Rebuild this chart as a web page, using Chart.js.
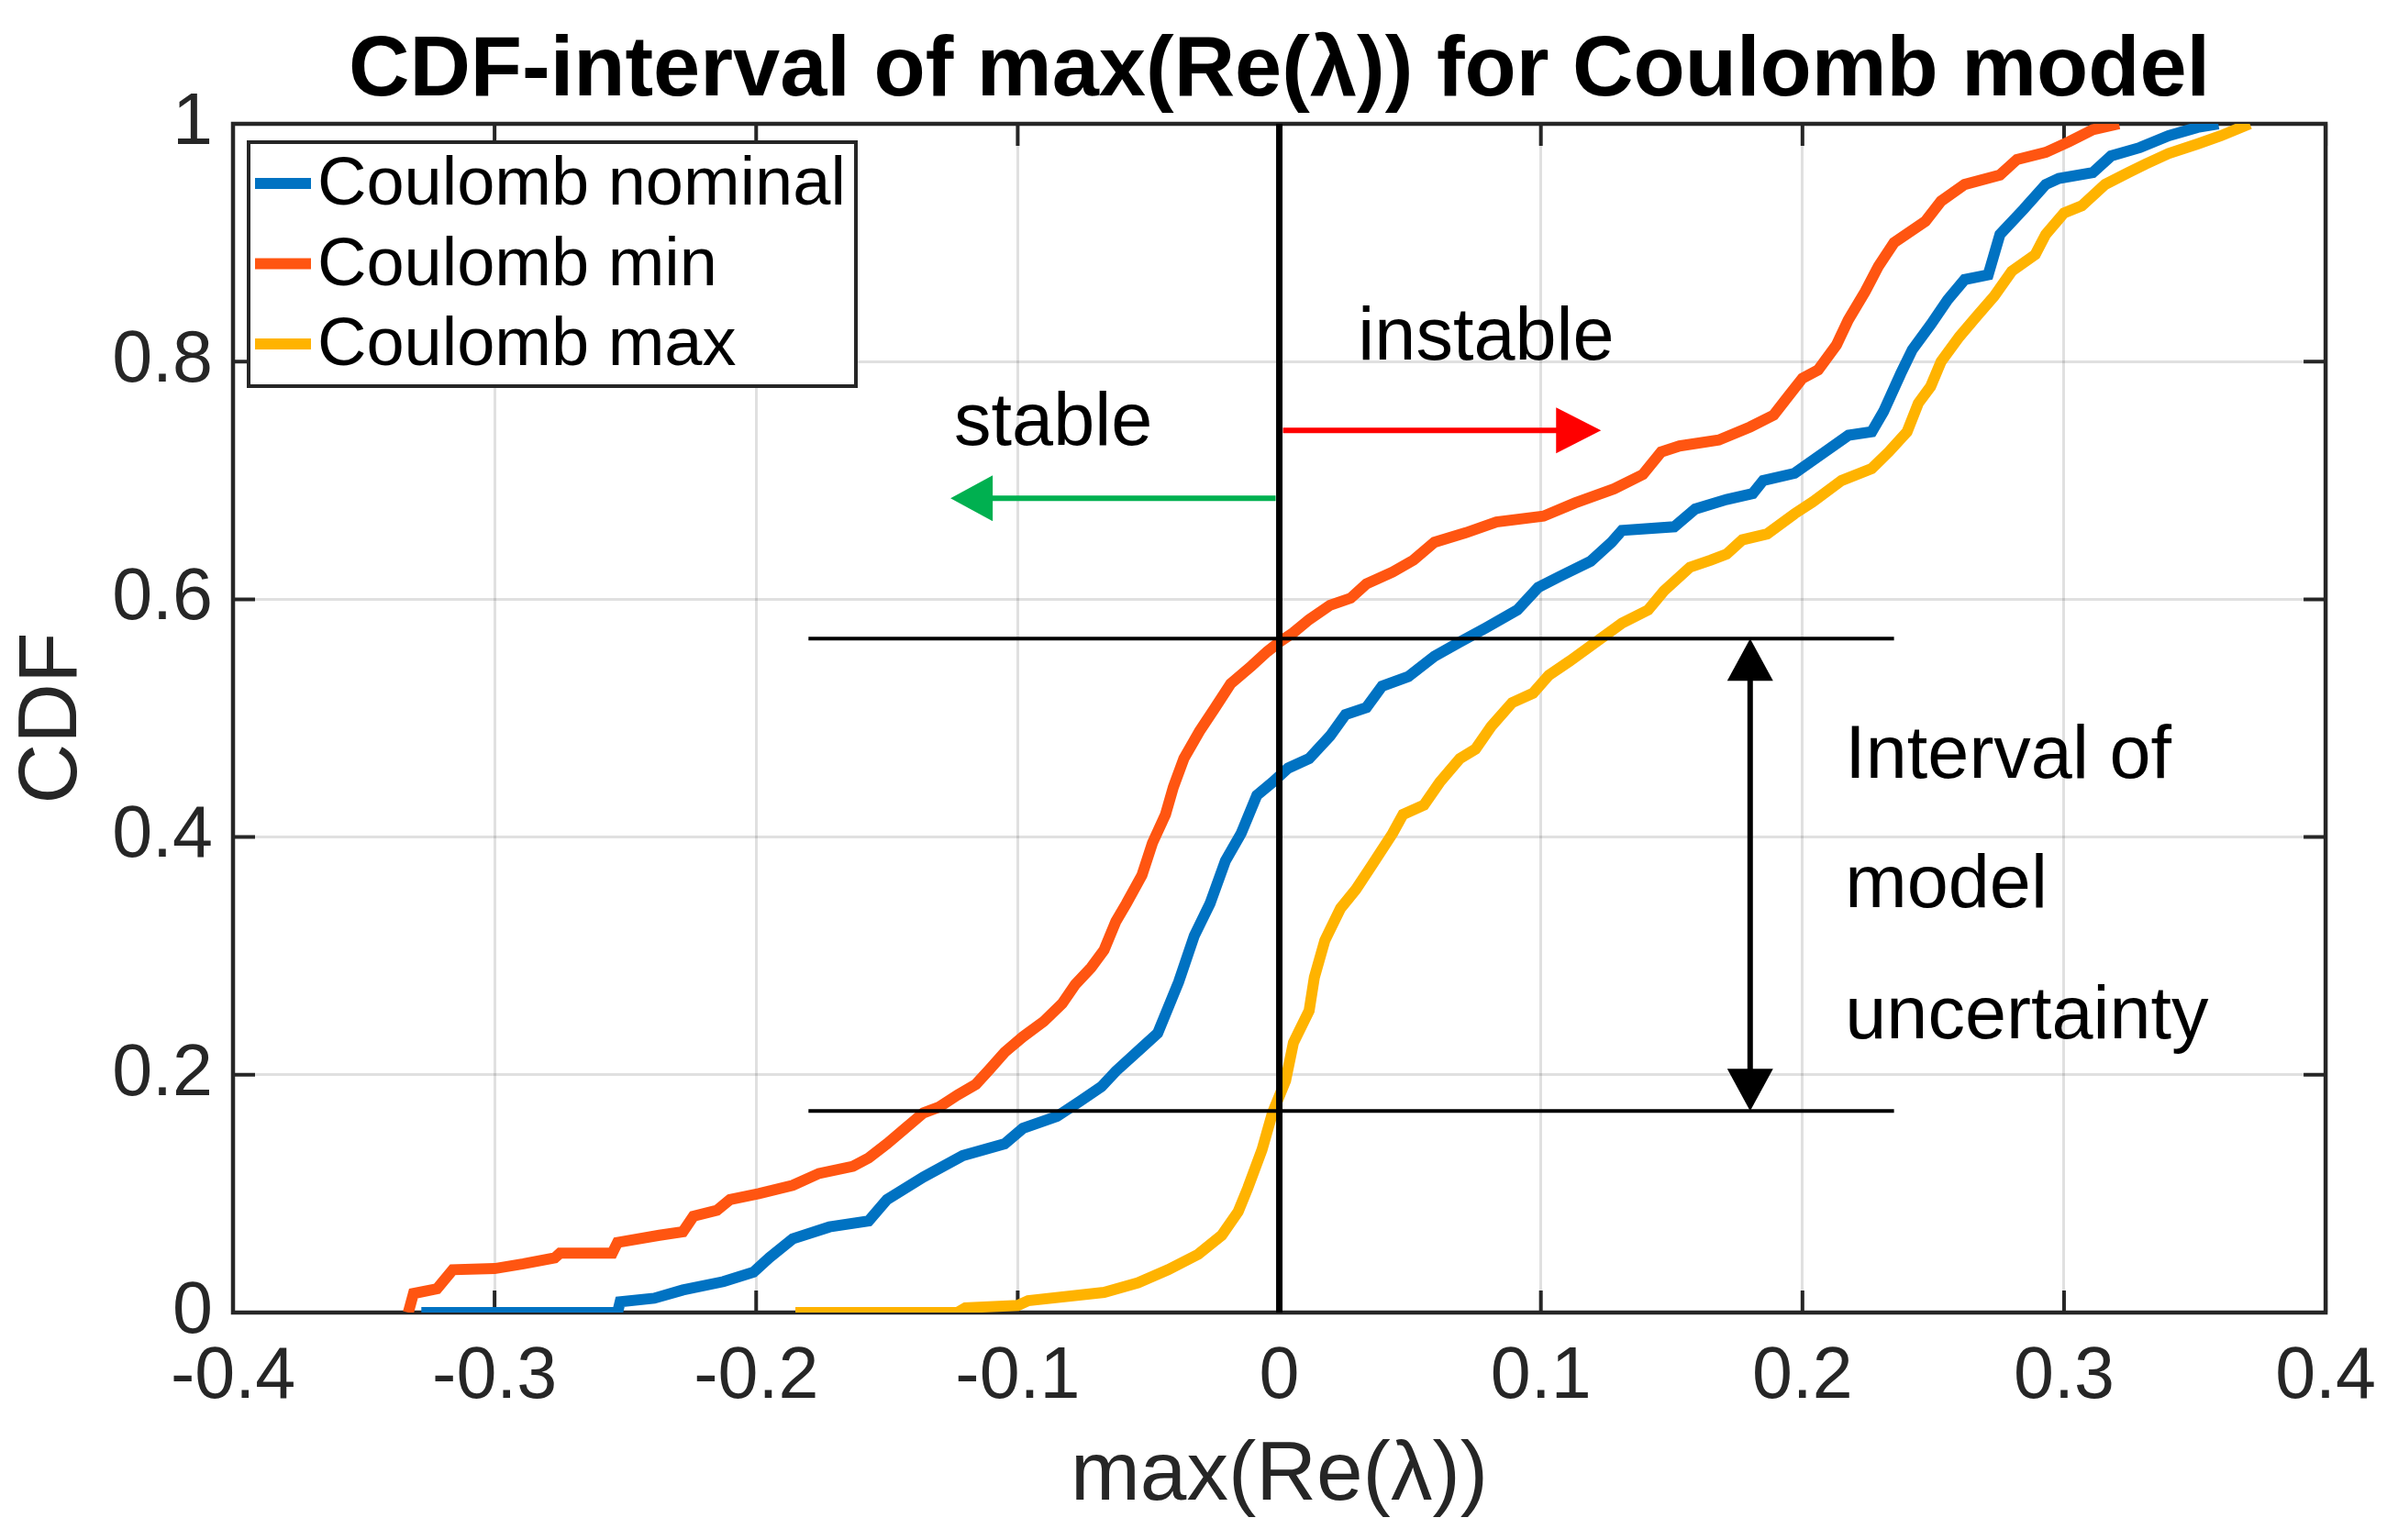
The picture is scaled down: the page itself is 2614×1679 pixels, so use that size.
<!DOCTYPE html>
<html>
<head>
<meta charset="utf-8">
<script src="https://cdn.jsdelivr.net/npm/chart.js@4.4.1/dist/chart.umd.min.js"></script>
<style>
  html,body{margin:0;padding:0;background:#fff;}
  #wrap{width:2614px;height:1679px;}
</style>
</head>
<body>
<div id="wrap"><canvas id="cdf"></canvas></div>
<script>
/* CDF interval of max(Re(lambda)) - Coulomb model */
const C_NOM = '#0072C2';
const C_MIN = '#FF5511';
const C_MAX = '#FFB300';
const AXIS  = '#262626';
const FONT  = '"Liberation Sans", Arial, Helvetica, sans-serif';

const nomX = [-0.328,-0.253,-0.252,-0.239,-0.228,-0.2125,-0.201,-0.195,-0.186,-0.172,-0.157,-0.150,-0.136,-0.121,-0.105,-0.098,-0.085,-0.076,-0.068,-0.0625,-0.0525,-0.0465,-0.0385,-0.0325,-0.0265,-0.0206,-0.0146,-0.0086,-0.0026,0.0034,0.0114,0.0194,0.0253,0.0333,0.0393,0.0493,0.0593,0.069,0.079,0.091,0.099,0.107,0.119,0.127,0.131,0.151,0.159,0.171,0.181,0.185,0.197,0.2086,0.2176,0.2265,0.231,0.2376,0.242,0.249,0.2555,0.262,0.271,0.2755,0.2845,0.293,0.298,0.311,0.318,0.329,0.340,0.351,0.359];
const nomY = [0,0,0.009,0.012,0.019,0.026,0.034,0.046,0.062,0.072,0.077,0.095,0.114,0.132,0.142,0.155,0.165,0.178,0.190,0.203,0.223,0.235,0.278,0.317,0.344,0.380,0.403,0.435,0.446,0.458,0.466,0.485,0.503,0.509,0.527,0.535,0.552,0.564,0.576,0.591,0.610,0.619,0.632,0.648,0.658,0.661,0.676,0.684,0.689,0.700,0.706,0.724,0.738,0.741,0.758,0.790,0.810,0.831,0.852,0.869,0.873,0.907,0.928,0.949,0.954,0.959,0.973,0.980,0.990,0.997,1.0];

const minX = [-0.333,-0.331,-0.322,-0.316,-0.300,-0.289,-0.277,-0.275,-0.255,-0.253,-0.237,-0.228,-0.224,-0.215,-0.210,-0.199,-0.186,-0.176,-0.163,-0.157,-0.150,-0.143,-0.136,-0.130,-0.123,-0.116,-0.111,-0.105,-0.098,-0.090,-0.083,-0.078,-0.072,-0.067,-0.0625,-0.0585,-0.0525,-0.0485,-0.0435,-0.0405,-0.0365,-0.0305,-0.0245,-0.0186,-0.0106,-0.0046,0,0.0054,0.0114,0.0194,0.0273,0.0333,0.0433,0.0513,0.0593,0.0713,0.083,0.101,0.113,0.128,0.139,0.146,0.153,0.168,0.180,0.189,0.195,0.200,0.206,0.213,0.2175,0.224,0.229,0.235,0.247,0.253,0.262,0.2755,0.282,0.293,0.302,0.311,0.321];
const minY = [0,0.016,0.020,0.036,0.037,0.041,0.046,0.050,0.050,0.059,0.065,0.068,0.081,0.086,0.095,0.100,0.107,0.117,0.123,0.130,0.142,0.155,0.168,0.173,0.183,0.192,0.204,0.219,0.232,0.245,0.260,0.276,0.290,0.305,0.329,0.344,0.368,0.395,0.419,0.442,0.466,0.489,0.509,0.529,0.544,0.556,0.564,0.572,0.583,0.595,0.601,0.613,0.623,0.633,0.648,0.656,0.665,0.670,0.681,0.693,0.705,0.724,0.729,0.734,0.745,0.755,0.772,0.786,0.793,0.814,0.835,0.859,0.880,0.900,0.918,0.935,0.949,0.957,0.970,0.976,0.985,0.995,1.0];

const maxX = [-0.185,-0.123,-0.120,-0.100,-0.096,-0.067,-0.054,-0.0425,-0.031,-0.022,-0.0157,-0.012,-0.0066,-0.0026,0.0024,0.0054,0.0114,0.0134,0.0174,0.0234,0.0293,0.0353,0.0433,0.0473,0.0553,0.0613,0.069,0.075,0.081,0.089,0.097,0.103,0.111,0.121,0.131,0.141,0.147,0.157,0.165,0.171,0.177,0.1865,0.197,0.204,0.215,0.2265,0.233,0.240,0.2443,0.249,0.253,0.260,0.2666,0.2733,0.280,0.289,0.293,0.300,0.3068,0.3157,0.3246,0.331,0.340,0.351,0.360,0.371];
const maxY = [0,0,0.004,0.006,0.010,0.017,0.025,0.036,0.049,0.065,0.085,0.105,0.137,0.168,0.195,0.227,0.254,0.282,0.313,0.340,0.356,0.376,0.403,0.419,0.427,0.446,0.466,0.474,0.493,0.513,0.521,0.536,0.548,0.564,0.580,0.591,0.607,0.627,0.633,0.638,0.650,0.655,0.672,0.682,0.700,0.710,0.724,0.741,0.765,0.779,0.800,0.821,0.838,0.855,0.876,0.890,0.907,0.925,0.931,0.949,0.959,0.966,0.975,0.983,0.990,1.0];

const seriesNames = ['Coulomb nominal','Coulomb min','Coulomb max'];

const xTickVals   = [-0.4,-0.3,-0.2,-0.1,0,0.1,0.2,0.3,0.4];
const xTickLabels = ['-0.4','-0.3','-0.2','-0.1','0','0.1','0.2','0.3','0.4'];
const yTickVals   = [0,0.2,0.4,0.6,0.8,1];
const yTickLabels = ['0','0.2','0.4','0.6','0.8','1'];

// annotation values (data units)
const bandLevels   = [0.567, 0.1695];
const bandRange    = [-0.180, 0.235];
const intervalX    = 0.180;
const unstableArr  = [0, 0.123, 0.742];   // x from, x to, y
const stableArr    = [0, -0.1257, 0.685];
const noteTexts    = ['stable','instable','Interval of','model','uncertainty'];
const noteX        = [-0.1243, 0.0301, 0.2163, 0.2163, 0.2163];
const noteY        = [0.730, 0.8017, 0.4498, 0.341, 0.2307];

function pts(xs, ys){ return xs.map((v,i)=>({x:v,y:ys[i]})); }

function head(ctx, tx, ty, dx, dy, len, half){
  ctx.beginPath();
  ctx.moveTo(tx, ty);
  ctx.lineTo(tx - dx*len - dy*half, ty - dy*len + dx*half);
  ctx.lineTo(tx - dx*len + dy*half, ty - dy*len - dx*half);
  ctx.closePath();
  ctx.fill();
}

const overlay = {
  id: 'overlay',
  beforeDatasetsDraw(chart){
    const {ctx, chartArea:a, scales:{x, y}} = chart;
    const TL = 24;
    ctx.save();
    ctx.strokeStyle = AXIS; ctx.lineWidth = 4;
    ctx.beginPath();
    xTickVals.forEach(v=>{ const p=x.getPixelForValue(v);
      ctx.moveTo(p,a.bottom); ctx.lineTo(p,a.bottom-TL);
      ctx.moveTo(p,a.top); ctx.lineTo(p,a.top+TL); });
    yTickVals.forEach(v=>{ const p=y.getPixelForValue(v);
      ctx.moveTo(a.left,p); ctx.lineTo(a.left+TL,p);
      ctx.moveTo(a.right,p); ctx.lineTo(a.right-TL,p); });
    ctx.stroke();
    ctx.lineWidth = 4.5;
    ctx.strokeRect(a.left, a.top, a.right-a.left, a.bottom-a.top);
    ctx.restore();
  },
  afterDatasetsDraw(chart){
    const {ctx, scales:{x, y}} = chart;
    ctx.save();
    ctx.lineCap = 'butt';
    // band lines
    ctx.strokeStyle = '#000'; ctx.lineWidth = 4;
    ctx.beginPath();
    bandLevels.forEach(l=>{ ctx.moveTo(x.getPixelForValue(bandRange[0]), y.getPixelForValue(l));
      ctx.lineTo(x.getPixelForValue(bandRange[1]), y.getPixelForValue(l)); });
    ctx.stroke();
    // zero line
    ctx.lineWidth = 7;
    ctx.beginPath();
    ctx.moveTo(x.getPixelForValue(0), y.getPixelForValue(0));
    ctx.lineTo(x.getPixelForValue(0), y.getPixelForValue(1));
    ctx.stroke();
    // interval double arrow
    const ax = x.getPixelForValue(intervalX);
    const yt = y.getPixelForValue(bandLevels[0]), yb = y.getPixelForValue(bandLevels[1]);
    ctx.fillStyle = '#000'; ctx.lineWidth = 6;
    ctx.beginPath(); ctx.moveTo(ax, yt+40); ctx.lineTo(ax, yb-40); ctx.stroke();
    head(ctx, ax, yt, 0, -1, 46, 25);
    head(ctx, ax, yb, 0, 1, 46, 25);
    // unstable arrow (red)
    let y0 = y.getPixelForValue(unstableArr[2]);
    let x0 = x.getPixelForValue(unstableArr[0]), x1 = x.getPixelForValue(unstableArr[1]);
    ctx.strokeStyle = '#FF0000'; ctx.fillStyle = '#FF0000'; ctx.lineWidth = 6;
    ctx.beginPath(); ctx.moveTo(x0+4, y0); ctx.lineTo(x1-40, y0); ctx.stroke();
    head(ctx, x1, y0, 1, 0, 49, 25);
    // stable arrow (green)
    y0 = y.getPixelForValue(stableArr[2]);
    x0 = x.getPixelForValue(stableArr[0]); x1 = x.getPixelForValue(stableArr[1]);
    ctx.strokeStyle = '#00B050'; ctx.fillStyle = '#00B050';
    ctx.beginPath(); ctx.moveTo(x0-4, y0); ctx.lineTo(x1+40, y0); ctx.stroke();
    head(ctx, x1, y0, -1, 0, 46, 25);
    // notes
    ctx.fillStyle = '#000'; ctx.font = '81px '+FONT;
    ctx.textAlign = 'left'; ctx.textBaseline = 'alphabetic';
    noteTexts.forEach((t,i)=> ctx.fillText(t, x.getPixelForValue(noteX[i]), y.getPixelForValue(noteY[i])));
    ctx.restore();
  },
  afterDraw(chart){
    const {ctx, chartArea:a} = chart;
    ctx.save();
    // title
    ctx.fillStyle = '#000'; ctx.font = 'bold 92px '+FONT;
    ctx.textAlign = 'center'; ctx.textBaseline = 'alphabetic';
    ctx.fillText('CDF-interval of max(Re(\u03bb)) for Coulomb model', (a.left+a.right)/2, 104);
    // legend
    const bx = a.left+17, by = a.top+20, bw = 662, bh = 266;
    ctx.fillStyle = '#fff'; ctx.fillRect(bx, by, bw, bh);
    ctx.strokeStyle = AXIS; ctx.lineWidth = 4; ctx.strokeRect(bx, by, bw, bh);
    ctx.font = '74px '+FONT; ctx.textAlign = 'left'; ctx.textBaseline = 'middle';
    chart.data.datasets.forEach((ds,i)=>{
      const cy = by + 45 + i*87.5;
      ctx.strokeStyle = ds.borderColor; ctx.lineWidth = 12;
      ctx.beginPath(); ctx.moveTo(bx+7, cy); ctx.lineTo(bx+68, cy); ctx.stroke();
      ctx.fillStyle = '#000'; ctx.fillText(ds.label, bx+75, cy+3);
    });
    ctx.restore();
  }
};

function line(label, data, color, order){
  return {label, data, borderColor:color, backgroundColor:color, borderWidth:12,
    showLine:true, pointRadius:0, pointHoverRadius:0, tension:0, order, borderJoinStyle:'miter'};
}

new Chart(document.getElementById('cdf'), {
  type: 'scatter',
  data: { datasets: [
    line(seriesNames[0], pts(nomX, nomY), C_NOM, 3),
    line(seriesNames[1], pts(minX, minY), C_MIN, 2),
    line(seriesNames[2], pts(maxX, maxY), C_MAX, 1)
  ]},
  options: {
    responsive:true, maintainAspectRatio:false, animation:false, devicePixelRatio:1,
    layout:{ padding:{ top:135, right:65, left:0, bottom:0 } },
    plugins:{ legend:{display:false}, tooltip:{enabled:false}, title:{display:false} },
    scales:{
      x:{ type:'linear', min:-0.4, max:0.4,
        afterBuildTicks: s => { s.ticks = xTickVals.map(v=>({value:v})); },
        afterFit: s => { s.height = 248; },
        ticks:{ callback:(v,i)=>xTickLabels[i], color:AXIS, font:{family:FONT, size:79}, padding:24, maxRotation:0, autoSkip:false },
        grid:{ color:'rgba(0,0,0,0.12)', lineWidth:3, drawTicks:false },
        border:{ display:false },
        title:{ display:true, text:'max(Re(\u03bb))', color:AXIS, font:{family:FONT, size:91}, padding:{top:0, bottom:14} } },
      y:{ type:'linear', min:0, max:1,
        afterBuildTicks: s => { s.ticks = yTickVals.map(v=>({value:v})); },
        afterFit: s => { s.width = 254; },
        ticks:{ callback:(v,i)=>yTickLabels[i], color:AXIS, font:{family:FONT, size:79}, padding:22, autoSkip:false },
        grid:{ color:'rgba(0,0,0,0.12)', lineWidth:3, drawTicks:false },
        border:{ display:false },
        title:{ display:true, text:'CDF', color:AXIS, font:{family:FONT, size:91}, padding:{top:3, bottom:0} } }
    }
  },
  plugins:[overlay]
});
</script>
</body>
</html>
